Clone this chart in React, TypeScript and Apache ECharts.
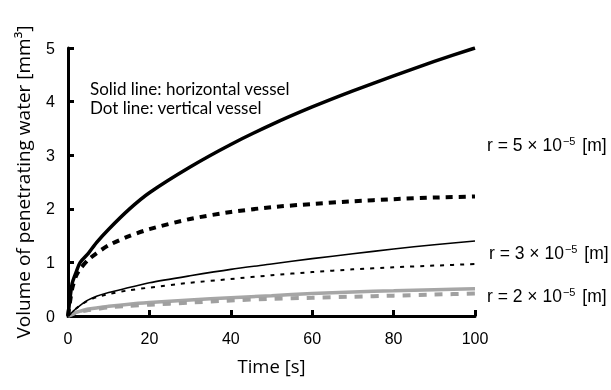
import React, { useEffect, useRef } from "react";
import * as echarts from "echarts";

const times = [0, 1, 2, 3, 5, 7, 10, 15, 20, 30, 40, 50, 60, 70, 80, 90, 100];
// r = 5e-5 horizontal (thick solid)
const r5Horizontal = [0, 0.6, 0.82, 1.0, 1.17, 1.37, 1.62, 1.99, 2.3, 2.78, 3.2, 3.57, 3.9, 4.2, 4.48, 4.75, 5.0];
// r = 5e-5 vertical (thick dashed)
const r5Vertical = [0, 0.5, 0.75, 0.88, 1.05, 1.17, 1.32, 1.49, 1.62, 1.81, 1.94, 2.03, 2.09, 2.14, 2.18, 2.21, 2.23];
// r = 3e-5 horizontal (thin solid)
const r3Horizontal = [0, 0.07, 0.14, 0.2, 0.3, 0.37, 0.44, 0.53, 0.62, 0.75, 0.87, 0.97, 1.07, 1.16, 1.25, 1.33, 1.4];
// r = 3e-5 vertical (thin dotted)
const r3Vertical = [0, 0.07, 0.14, 0.2, 0.29, 0.35, 0.41, 0.48, 0.53, 0.62, 0.69, 0.76, 0.82, 0.87, 0.91, 0.94, 0.97];
// r = 2e-5 horizontal (grey solid)
const r2Horizontal = [0, 0.04, 0.07, 0.09, 0.13, 0.15, 0.18, 0.22, 0.25, 0.3, 0.34, 0.38, 0.42, 0.45, 0.47, 0.49, 0.51];
// r = 2e-5 vertical (grey dashed)
const r2Vertical = [0, 0.03, 0.06, 0.08, 0.11, 0.13, 0.16, 0.19, 0.21, 0.25, 0.29, 0.32, 0.34, 0.36, 0.38, 0.4, 0.42];

const xTicks = [0, 20, 40, 60, 80, 100];
const yTicks = [0, 1, 2, 3, 4, 5];

const xName = "Time [s]";
const yName = "Volume of penetrating water [mm³]";
const noteLines = ["Solid line: horizontal vessel", "Dot line: vertical vessel"];
const radiusLabels = ["5", "3", "2"];

const pairs = (ys: number[]) => times.map((t, i) => [t, ys[i]]);

export default function App() {
  const ref = useRef<HTMLDivElement>(null);
  useEffect(() => {
    if (!ref.current) return;
    const chart = echarts.init(ref.current, null, { renderer: "svg" });
    const tickFont = { fontFamily: "Liberation Sans", fontSize: 16, color: "#000" };
    const nameFont = "Open Sans";
    const rLabel = (r: string, x: number, y: number) => ({
      type: "text",
      left: x,
      top: y,
      style: {
        text: `r = ${r} × 10{sup|−5} [m]`,
        font: "17.5px 'Liberation Sans'",
        fill: "#000",
        rich: {
          sup: { fontSize: 11, fontFamily: "Liberation Sans", verticalAlign: "top", padding: [0, 2, 8, 1] },
        },
      },
    });
    const line = (data: number[], color: string, width: number, type: any) => ({
      type: "line",
      data: pairs(data),
      showSymbol: false,
      smooth: 0.25,
      lineStyle: { color, width, type, cap: "butt" },
      z: 2,
    });
    chart.setOption({
      animation: false,
      grid: { left: 68, top: 48, right: 136, bottom: 74 },
      xAxis: {
        type: "value",
        min: 0,
        max: 100,
        interval: 20,
        name: xName,
        nameLocation: "middle",
        nameGap: 40,
        nameTextStyle: { fontFamily: nameFont, fontSize: 18.5, color: "#000" },
        axisLine: { lineStyle: { color: "#000", width: 3 } },
        axisTick: { inside: true, length: 6, lineStyle: { color: "#000", width: 3 } },
        axisLabel: { ...tickFont, margin: 14, formatter: (v: number) => (xTicks.includes(v) ? String(v) : "") },
        splitLine: { show: false },
      },
      yAxis: {
        type: "value",
        min: 0,
        max: 5,
        interval: 1,
        name: yName,
        nameLocation: "middle",
        nameGap: 36,
        nameRotate: 90,
        nameTextStyle: { fontFamily: nameFont, fontSize: 19, color: "#000" },
        axisLine: { show: true, lineStyle: { color: "#000", width: 3 } },
        axisTick: { show: true, inside: true, length: 6, lineStyle: { color: "#000", width: 3 } },
        axisLabel: { ...tickFont, margin: 13, formatter: (v: number) => (yTicks.includes(v) ? String(v) : "") },
        splitLine: { show: false },
      },
      series: [
        line(r2Horizontal, "#a6a6a6", 3.5, "solid"),
        line(r2Vertical, "#a0a0a0", 4, [8, 8]),
        line(r3Horizontal, "#000", 1.6, "solid"),
        line(r3Vertical, "#000", 2, [4, 6]),
        line(r5Horizontal, "#000", 3.5, "solid"),
        line(r5Vertical, "#000", 4, [7, 6]),
      ],
      graphic: [
        {
          type: "text",
          left: 90,
          top: 79,
          style: { text: noteLines.join("\n"), font: "17px Lato", fill: "#000", lineHeight: 19 },
        },
        rLabel(radiusLabels[0], 487, 135),
        rLabel(radiusLabels[1], 489, 243),
        rLabel(radiusLabels[2], 487, 286),
      ],
    });
    return () => chart.dispose();
  }, []);
  return <div ref={ref} style={{ position: "fixed", left: 0, top: 0, width: 611, height: 390 }} />;
}
